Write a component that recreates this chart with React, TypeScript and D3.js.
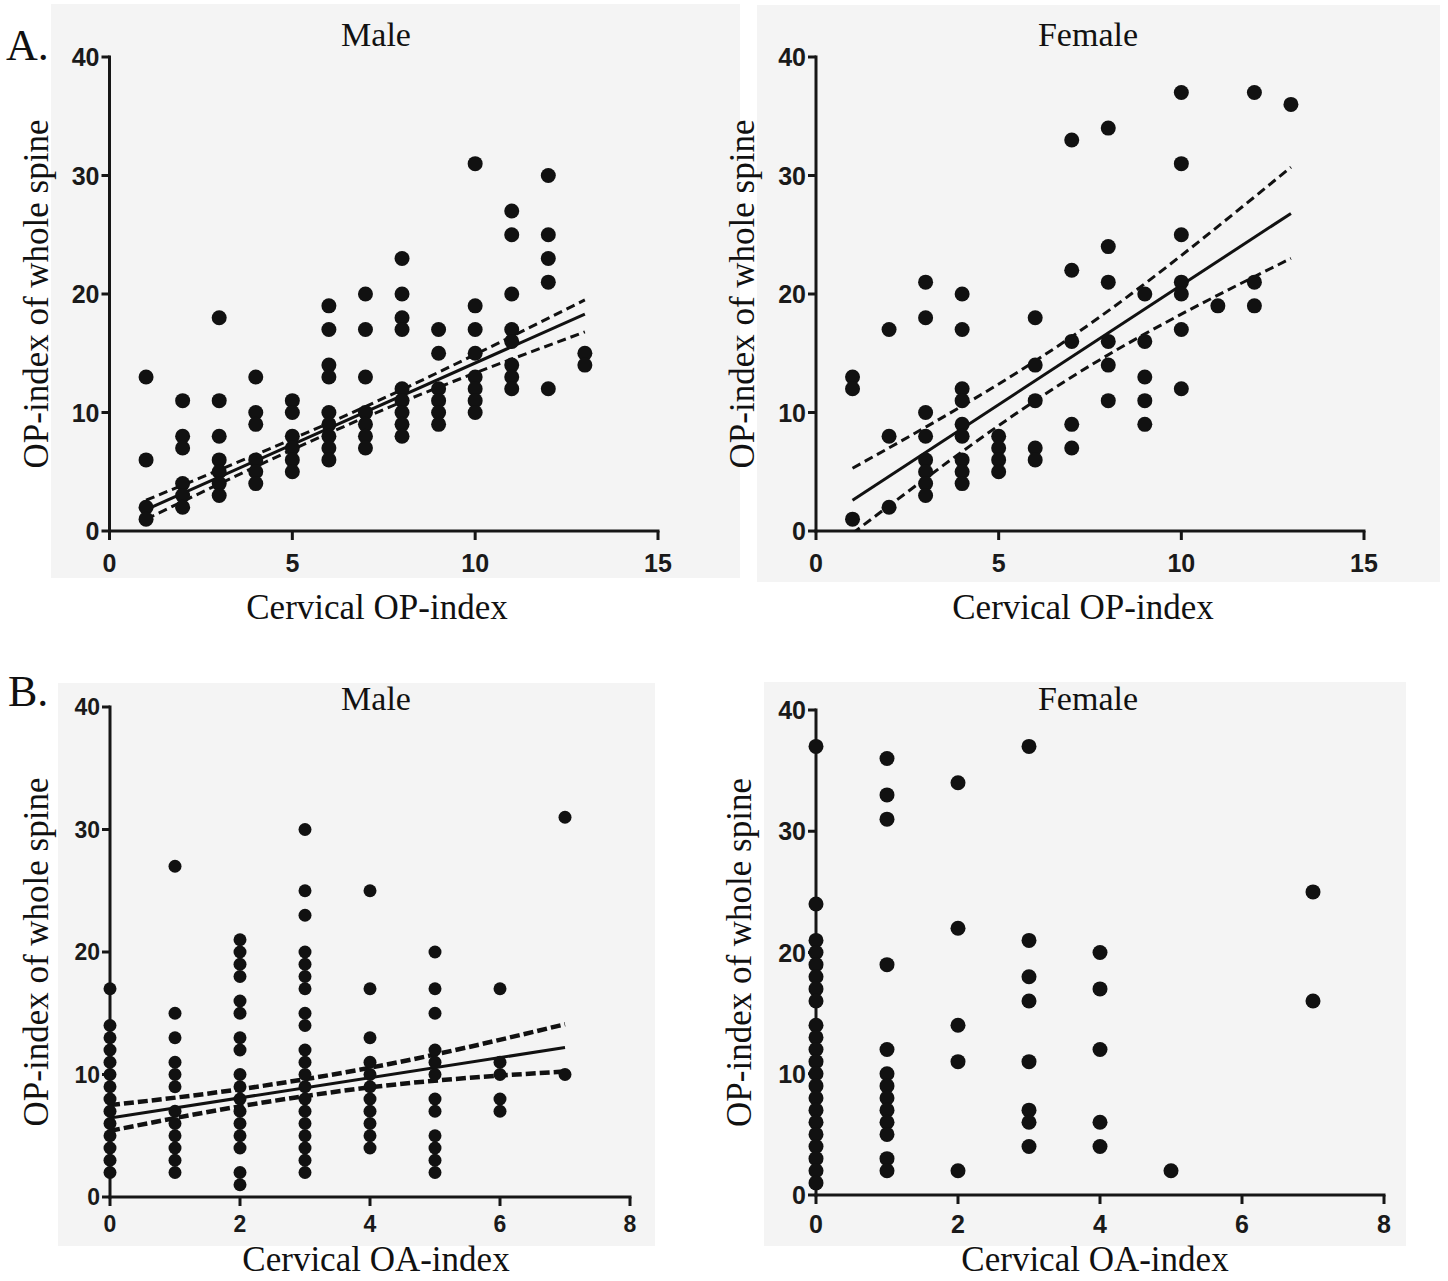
import * as d3 from "d3";

// tick values
const opIndexTicks = [0, 5, 10, 15];
const oaIndexTicks = [0, 2, 4, 6, 8];
const spineTicks = [0, 10, 20, 30, 40];

// A. Male: cervical OP-index vs OP-index of whole spine
const maleOpColumns = [1, 2, 3, 4, 5, 6, 7, 8, 9, 10, 11, 12, 13];
const maleOpSpine = [
  [13, 6, 2, 1],
  [11, 8, 7, 4, 3, 2],
  [18, 11, 8, 6, 5, 4, 3],
  [13, 10, 9, 6, 5, 4],
  [11, 10, 8, 7, 6, 5],
  [19, 17, 14, 13, 10, 9, 8, 7, 6],
  [20, 17, 13, 10, 9, 8, 7],
  [23, 20, 18, 17, 12, 11, 10, 9, 8],
  [17, 15, 12, 11, 10, 9],
  [31, 19, 17, 15, 13, 12, 11, 10],
  [27, 25, 20, 17, 16, 14, 13, 12],
  [30, 25, 23, 21, 12],
  [15, 14],
];
const maleOpFit: [number, number][] = [[1, 1.8], [13, 18.3]];
const maleOpUpper: [number, number][] = [[1, 2.6], [7, 10.5], [13, 19.5]];
const maleOpLower: [number, number][] = [[1, 1.0], [7, 9.6], [13, 16.8]];

// A. Female
const femaleOpColumns = [1, 2, 3, 4, 5, 6, 7, 8, 9, 10, 11, 12, 13];
const femaleOpSpine = [
  [13, 12, 1],
  [17, 8, 2],
  [21, 18, 10, 8, 6, 5, 4, 3],
  [20, 17, 12, 11, 9, 8, 6, 5, 4],
  [8, 7, 6, 5],
  [18, 14, 11, 7, 6],
  [33, 22, 16, 9, 7],
  [34, 24, 21, 16, 14, 11],
  [20, 16, 13, 11, 9],
  [37, 31, 25, 21, 20, 17, 12],
  [19],
  [37, 21, 19],
  [36],
];
const femaleOpFit: [number, number][] = [[1, 2.6], [13, 26.8]];
const femaleOpUpper: [number, number][] = [[1, 5.3], [7, 16.4], [13, 30.7]];
const femaleOpLower: [number, number][] = [[1, -0.2], [7, 13.0], [13, 23.0]];

// B. Male: cervical OA-index vs OP-index of whole spine
const maleOaColumns = [0, 1, 2, 3, 4, 5, 6, 7];
const maleOaSpine = [
  [17, 14, 13, 12, 11, 10, 9, 8, 7, 6, 5, 4, 3, 2],
  [27, 15, 13, 11, 10, 9, 7, 6, 5, 4, 3, 2],
  [21, 20, 19, 18, 16, 15, 13, 12, 10, 9, 8, 7, 6, 5, 4, 2, 1],
  [30, 25, 23, 20, 19, 18, 17, 15, 14, 12, 11, 10, 9, 8, 7, 6, 5, 4, 3, 2],
  [25, 17, 13, 11, 10, 9, 8, 7, 6, 5, 4],
  [20, 17, 15, 12, 11, 10, 8, 7, 5, 4, 3, 2],
  [17, 11, 10, 8, 7],
  [31, 10],
];
const maleOaFit: [number, number][] = [[0, 6.45], [7, 12.2]];
const maleOaUpper: [number, number][] = [[0, 7.5], [2, 8.8], [4, 10.55], [7, 14.1]];
const maleOaLower: [number, number][] = [[0, 5.4], [2, 7.4], [4, 8.95], [7, 10.25]];

// B. Female (no fit drawn)
const femaleOaColumns = [0, 1, 2, 3, 4, 5, 7];
const femaleOaSpine = [
  [37, 24, 21, 20, 19, 18, 17, 16, 14, 13, 12, 11, 10, 9, 8, 7, 6, 5, 4, 3, 2, 1],
  [36, 33, 31, 19, 12, 10, 9, 8, 7, 6, 5, 3, 2],
  [34, 22, 14, 11, 2],
  [37, 21, 18, 16, 11, 7, 6, 4],
  [20, 17, 12, 6, 4],
  [2],
  [25, 16],
];

const serif = "'Liberation Serif', 'Times New Roman', serif";
const sans = "'Liberation Sans', Arial, sans-serif";

interface Fit {
  line: [number, number][];
  upper: [number, number][];
  lower: [number, number][];
  width: number;
  dashWidth: number;
  dash: string;
}

interface Props {
  id: string;
  columns: number[];
  values: number[][];
  xMax: number;
  xTicks: number[];
  x0: number;
  x1: number;
  y0: number;
  y1: number;
  bg: [number, number, number, number];
  r: number;
  tickSize: number;
  tickGap: number;
  title: string;
  titleY: number;
  titleX: number;
  xLabel: string;
  xLabelX: number;
  xLabelY: number;
  yLabelX: number;
  fit?: Fit;
}

function Panel({
  id,
  columns,
  values,
  xMax,
  xTicks,
  x0,
  x1,
  y0,
  y1,
  bg,
  r,
  tickSize,
  tickGap,
  title,
  titleX,
  titleY,
  xLabel,
  xLabelX,
  xLabelY,
  yLabelX,
  fit,
}: Props) {
  const x = d3.scaleLinear().domain([0, xMax]).range([x0, x1]);
  const y = d3.scaleLinear().domain([0, 40]).range([y0, y1]);

  const points = columns.flatMap((c, i) => values[i].map((v) => [c, v]));

  const straight = d3
    .line<[number, number]>()
    .x((d) => x(d[0]))
    .y((d) => y(d[1]));
  const curved = d3
    .line<[number, number]>()
    .x((d) => x(d[0]))
    .y((d) => y(d[1]))
    .curve(d3.curveMonotoneX);

  return (
    <g>
      <rect
        x={bg[0]}
        y={bg[1]}
        width={bg[2] - bg[0]}
        height={bg[3] - bg[1]}
        fill="#f4f4f4"
      />
      <defs>
        <clipPath id={`clip-${id}`}>
          <rect x={x0} y={y1} width={x1 - x0} height={y0 - y1} />
        </clipPath>
      </defs>
      <text
        x={titleX}
        y={titleY}
        textAnchor="middle"
        fontFamily={serif}
        fontSize={34}
        fill="#111"
      >
        {title}
      </text>
      <text
        x={xLabelX}
        y={xLabelY}
        textAnchor="middle"
        fontFamily={serif}
        fontSize={35}
        fill="#111"
      >
        {xLabel}
      </text>
      <text
        transform={`translate(${yLabelX}, ${(y0 + y1) / 2}) rotate(-90)`}
        textAnchor="middle"
        fontFamily={serif}
        fontSize={35}
        fill="#111"
      >
        OP-index of whole spine
      </text>

      {/* axes */}
      <g stroke="#161616" strokeWidth={3} fill="none">
        <line x1={x0} x2={x0} y1={y0 + 1.5} y2={y1 - 1.5} />
        <line x1={x0 - 1.5} x2={x1 + 1.5} y1={y0} y2={y0} />
        {spineTicks.map((t) => (
          <line key={`yt-${t}`} x1={x0 - 8} x2={x0} y1={y(t)} y2={y(t)} />
        ))}
        {xTicks.map((t) => (
          <line key={`xt-${t}`} x1={x(t)} x2={x(t)} y1={y0} y2={y0 + 9} />
        ))}
      </g>
      <g
        fontFamily={sans}
        fontWeight="bold"
        fill="#1a1a1a"
        style={{ fontSize: `${tickSize}px` }}
      >
        {spineTicks.map((t) => (
          <text
            key={`yl-${t}`}
            x={x0 - 10}
            y={y(t)}
            dy="0.36em"
            textAnchor="end"
          >
            {t}
          </text>
        ))}
        {xTicks.map((t) => (
          <text
            key={`xl-${t}`}
            x={x(t)}
            y={y0 + tickGap}
            textAnchor="middle"
          >
            {t}
          </text>
        ))}
      </g>

      {fit && (
        <g clipPath={`url(#clip-${id})`} fill="none" stroke="#111">
          <path d={straight(fit.line) || ""} strokeWidth={fit.width} />
          <path
            d={curved(fit.upper) || ""}
            strokeWidth={fit.dashWidth}
            strokeDasharray={fit.dash}
          />
          <path
            d={curved(fit.lower) || ""}
            strokeWidth={fit.dashWidth}
            strokeDasharray={fit.dash}
          />
        </g>
      )}

      <g fill="#111">
        {points.map((p, i) => (
          <circle key={`pt-${i}`} cx={x(p[0])} cy={y(p[1])} r={r} />
        ))}
      </g>
    </g>
  );
}

export default function App() {
  return (
    <svg
      width={1448}
      height={1281}
      style={{ position: "absolute", left: 0, top: 0, background: "#fff" }}
    >
      <text x={6} y={60} fontFamily={serif} fontSize={44} fill="#111">
        A.
      </text>
      <text x={8} y={706} fontFamily={serif} fontSize={44} fill="#111">
        B.
      </text>

      <Panel
        id="am"
        columns={maleOpColumns}
        values={maleOpSpine}
        xMax={15}
        xTicks={opIndexTicks}
        x0={109.5}
        x1={658}
        y0={531}
        y1={57}
        bg={[51, 4, 740, 578]}
        r={7.5}
        tickSize={25}
        tickGap={41}
        title="Male"
        titleX={376}
        titleY={46}
        xLabel="Cervical OP-index"
        xLabelX={377}
        xLabelY={619}
        yLabelX={48}
        fit={{
          line: maleOpFit,
          upper: maleOpUpper,
          lower: maleOpLower,
          width: 3,
          dashWidth: 3,
          dash: "9 5",
        }}
      />
      <Panel
        id="af"
        columns={femaleOpColumns}
        values={femaleOpSpine}
        xMax={15}
        xTicks={opIndexTicks}
        x0={816}
        x1={1364}
        y0={531}
        y1={57}
        bg={[757, 5, 1440, 582]}
        r={7.5}
        tickSize={25}
        tickGap={41}
        title="Female"
        titleX={1088}
        titleY={46}
        xLabel="Cervical OP-index"
        xLabelX={1083}
        xLabelY={619}
        yLabelX={754}
        fit={{
          line: femaleOpFit,
          upper: femaleOpUpper,
          lower: femaleOpLower,
          width: 3,
          dashWidth: 3,
          dash: "9 5",
        }}
      />
      <Panel
        id="bm"
        columns={maleOaColumns}
        values={maleOaSpine}
        xMax={8}
        xTicks={oaIndexTicks}
        x0={110}
        x1={630}
        y0={1197}
        y1={707}
        bg={[58, 683, 655, 1246]}
        r={6.5}
        tickSize={23}
        tickGap={35}
        title="Male"
        titleX={376}
        titleY={710}
        xLabel="Cervical OA-index"
        xLabelX={376}
        xLabelY={1271}
        yLabelX={48}
        fit={{
          line: maleOaFit,
          upper: maleOaUpper,
          lower: maleOaLower,
          width: 3,
          dashWidth: 4.5,
          dash: "10 4",
        }}
      />
      <Panel
        id="bf"
        columns={femaleOaColumns}
        values={femaleOaSpine}
        xMax={8}
        xTicks={oaIndexTicks}
        x0={816}
        x1={1384}
        y0={1195}
        y1={710}
        bg={[764, 682, 1406, 1246]}
        r={7.5}
        tickSize={25}
        tickGap={38}
        title="Female"
        titleX={1088}
        titleY={710}
        xLabel="Cervical OA-index"
        xLabelX={1095}
        xLabelY={1271}
        yLabelX={751}
      />
    </svg>
  );
}
